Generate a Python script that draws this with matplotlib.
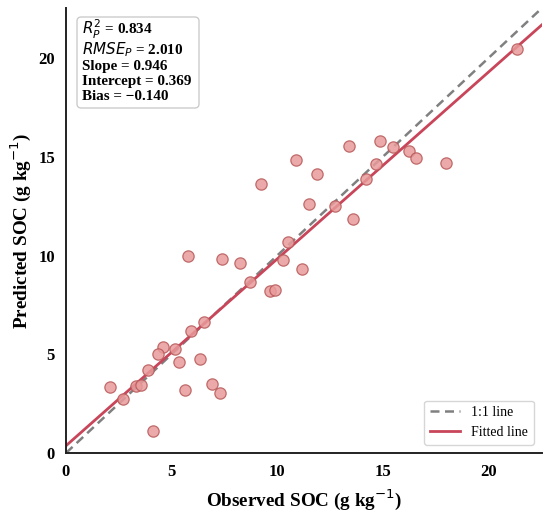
"""Observed vs predicted SOC scatter with 1:1 and fitted lines."""
import numpy as np
import matplotlib
matplotlib.use("Agg")
import matplotlib.pyplot as plt
from matplotlib.patches import FancyBboxPatch

observed = [21.37, 14.85, 13.41, 15.51, 16.26, 16.60, 17.99, 14.68, 14.20, 10.89,
            11.88, 11.53, 12.72, 13.59, 10.51, 10.27, 11.18, 9.23, 5.78, 7.41,
            8.26, 8.70, 9.65, 9.90, 6.54, 5.92, 4.58, 5.17, 4.36, 5.37,
            6.35, 3.87, 2.07, 3.32, 3.55, 2.70, 5.62, 6.90, 7.30, 4.11]
predicted = [20.45, 15.81, 15.53, 15.49, 15.29, 14.94, 14.67, 14.64, 13.88, 14.84,
             14.16, 12.59, 12.51, 11.86, 10.69, 9.78, 9.34, 13.65, 10.00, 9.82,
             9.64, 8.64, 8.20, 8.28, 6.66, 6.19, 5.37, 5.28, 5.01, 4.62,
             4.74, 4.19, 3.32, 3.41, 3.43, 2.74, 3.17, 3.51, 3.02, 1.09]

slope = 0.946
intercept = 0.369
stats_lines = ["$R_P^2$ = 0.834",
               "$RMSE_P$ = 2.010",
               "Slope = 0.946",
               "Intercept = 0.369",
               "Bias = \u22120.140"]

plt.rcParams["font.family"] = ["Liberation Serif", "DejaVu Serif"]
plt.rcParams["mathtext.fontset"] = "dejavusans"

W, H = 550, 513


def main():
    fig = plt.figure(figsize=(W / 100, H / 100), dpi=100)
    ax = fig.add_axes([66 / W, 60 / H, 476 / W, 445 / H])

    lim = max(max(observed), max(predicted)) * 1.055
    ax.scatter(observed, predicted, s=66, color="#e89a9a", edgecolor="#b85858",
               linewidth=0.9, alpha=0.85, zorder=3)

    grid = np.array([0, lim])
    ax.plot(grid, grid, ls="--", dashes=(3.6, 2.2), color="#808080", lw=1.8,
            label="1:1 line", zorder=2)
    ax.plot(grid, slope * grid + intercept, color="#c8455a", lw=2.0,
            label="Fitted line", zorder=2)

    ax.set_xlim(0, lim)
    ax.set_ylim(0, lim)
    ax.set_xticks([0, 5, 10, 15, 20])
    ax.set_yticks([0, 5, 10, 15, 20])
    ax.tick_params(length=0, pad=8, labelsize=12)
    for lab in ax.get_xticklabels() + ax.get_yticklabels():
        lab.set_fontweight("bold")

    for side in ("top", "right"):
        ax.spines[side].set_visible(False)
    for side in ("left", "bottom"):
        ax.spines[side].set_linewidth(1.4)
        ax.spines[side].set_color("#222222")

    ax.set_xlabel("Observed SOC (g kg$^{-1}$)", fontsize=13.8, fontweight="bold", labelpad=5)
    ax.set_ylabel("Predicted SOC (g kg$^{-1}$)", fontsize=13.8, fontweight="bold", labelpad=4)

    # stats box, laid out line by line so the spacing stays even
    box = FancyBboxPatch((77 / W, 1 - 108 / H), 122 / W, 91 / H,
                         boxstyle="round,pad=0,rounding_size=0.008",
                         transform=fig.transFigure, facecolor="white",
                         edgecolor="#cccccc", lw=1, zorder=5)
    fig.patches.append(box)
    baselines = [34.5, 54.5, 70, 85.5, 100.5]
    for y, line in zip(baselines, stats_lines):
        fig.text(82 / W, 1 - y / H, line, fontsize=10.9,
                 fontweight="bold", va="baseline", ha="left", zorder=6)

    leg = ax.legend(loc="lower right", fontsize=10, frameon=True, fancybox=True,
                    edgecolor="#cccccc", handlelength=2.2, borderaxespad=0.6)
    leg.get_frame().set_linewidth(1)

    fig.savefig("out.png", dpi=100)
    plt.close(fig)


if __name__ == "__main__":
    main()
